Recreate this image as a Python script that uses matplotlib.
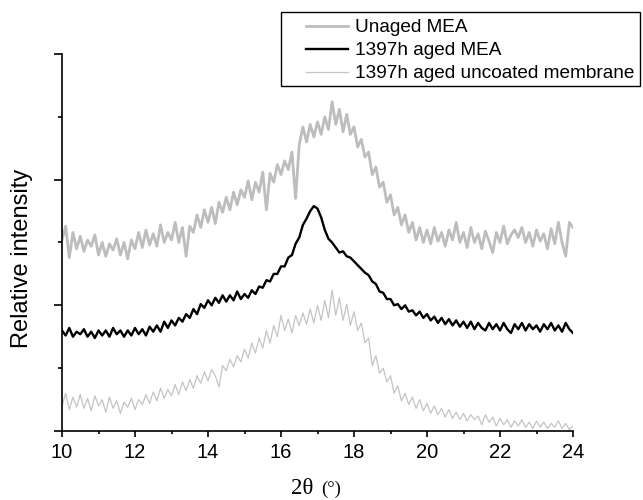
import numpy as np
import matplotlib.pyplot as plt
from matplotlib.patches import Rectangle
from matplotlib.ticker import MultipleLocator

plt.rcParams['font.family'] = ['Liberation Sans', 'DejaVu Sans']

# 2-theta sampling grid (degrees), 0.1 step from 10 to 24
two_theta = np.linspace(10, 24, 141)

# relative intensities (arbitrary units, stacked)
unaged_mea = [
    152, 163, 138, 158, 145, 155, 143, 152, 147, 156,
    140, 150, 139, 149, 144, 153, 140, 150, 137, 152,
    145, 158, 146, 160, 148, 157, 147, 164, 150, 158,
    152, 166, 150, 162, 139, 163, 158, 172, 162, 176,
    166, 178, 165, 182, 174, 186, 176, 190, 180, 192,
    186, 199, 184, 198, 190, 206, 176, 205, 198, 212,
    204, 215, 208, 222, 185, 228, 242, 230, 244, 234,
    246, 236, 250, 240, 262, 244, 256, 238, 252, 236,
    242, 226, 232, 218, 222, 204, 210, 194, 198, 182,
    188, 172, 178, 164, 172, 158, 166, 152, 162, 150,
    160, 149, 162, 151, 158, 147, 160, 152, 166, 150,
    158, 146, 162, 150, 157, 145, 159, 151, 142, 158,
    150, 163, 149, 156, 160, 154, 162, 150, 158, 147,
    160, 151, 157, 145, 161, 149, 166, 150, 139, 166,
    162,
]

aged_mea = [
    80, 76, 82, 75, 79, 77, 81, 75, 79, 74,
    80, 76, 80, 75, 82, 77, 80, 75, 80, 76,
    82, 77, 81, 76, 83, 79, 84, 79, 87, 82,
    88, 84, 90, 87, 93, 90, 97, 93, 101, 98,
    104, 100, 106, 102, 108, 103, 108, 104, 111, 105,
    109, 106, 112, 109, 115, 114, 120, 119, 125, 125,
    131, 131, 138, 140, 149, 154, 164, 169, 175, 179,
    177, 170, 160, 153, 150, 146, 142, 143, 139, 138,
    135, 132, 129, 126, 124, 119, 117, 111, 110, 105,
    105, 100, 101, 97, 100, 95, 96, 92, 95, 90,
    93, 88, 91, 86, 90, 85, 89, 84, 88, 83,
    87, 82, 87, 81, 86, 82, 80, 86, 81, 85,
    80, 86, 81, 78, 85, 81, 86, 80, 85, 81,
    84, 79, 85, 81, 86, 80, 84, 79, 86, 81,
    78,
]

aged_uncoated = [
    20, 30, 17, 27, 19, 29, 18, 26, 16, 28,
    20, 25, 15, 27, 18, 24, 14, 23, 19, 26,
    17, 25, 21, 29, 22, 31, 24, 34, 26, 33,
    28, 37, 29, 39, 32, 41, 34, 44, 38, 47,
    40, 49, 44, 35, 52, 48, 57, 51, 60, 55,
    65, 58, 70, 62, 74, 66, 80, 70, 84, 75,
    92, 80, 89, 78, 92, 84, 94, 85, 97, 86,
    100, 88, 104, 90, 112, 92, 106, 88, 101, 84,
    95, 80, 86, 70, 74, 52, 60, 46, 50, 39,
    44, 30, 36, 24, 30, 21, 27, 18, 25, 16,
    22, 14, 20, 13, 18, 11, 17, 10, 15, 9,
    14, 8, 13, 9, 12, 5, 13, 7, 11, 4,
    10, 5, 9, 3, 8, 4, 9, 3, 7, 2,
    8, 3, 7, 2, 6, 3, 8, 2, 6, 1,
    4,
]

labels = ['Unaged MEA', '1397h aged MEA', '1397h aged uncoated membrane']

W, H = 643, 500
fig = plt.figure(figsize=(W / 100, H / 100), dpi=100)
ax = fig.add_axes([62 / W, (H - 431) / H, (573 - 62) / W, (431 - 54) / H])

l1, = ax.plot(two_theta, unaged_mea, color='#bdbdbd', lw=2.0)
l2, = ax.plot(two_theta, aged_mea, color='black', lw=1.7)
l3, = ax.plot(two_theta, aged_uncoated, color='#c4c4c4', lw=0.9)

ax.set_xlim(10, 24)
ax.set_ylim(0, 300)
for s in ['top', 'right']:
    ax.spines[s].set_visible(False)
for s in ['left', 'bottom']:
    ax.spines[s].set_linewidth(1.2)

ax.xaxis.set_major_locator(MultipleLocator(2))
ax.xaxis.set_minor_locator(MultipleLocator(1))
ax.yaxis.set_major_locator(MultipleLocator(100))
ax.yaxis.set_minor_locator(MultipleLocator(50))
ax.tick_params(axis='x', which='major', direction='out', length=4.5, width=1.2,
               pad=4, labelsize=14.5)
ax.tick_params(axis='x', which='minor', direction='out', length=2.5, width=1.2)
ax.tick_params(axis='y', which='major', direction='out', length=6, width=1.2,
               labelleft=False)
ax.tick_params(axis='y', which='minor', direction='out', length=3, width=1.2)

fig.text(22 / W, 1 - 258 / H, 'Relative intensity', rotation=90,
         ha='center', va='center', fontsize=17)
fig.text(302 / W, 1 - 489 / H, '2θ', ha='center', va='center',
         fontsize=16.5, family='Liberation Serif')
fig.text(331 / W, 1 - 489 / H, '(°)', ha='center', va='center',
         fontsize=13.5, family='Liberation Serif')

fig.legend([l1, l2, l3], labels, loc='upper left',
           bbox_to_anchor=(306 / W, 1 - 19 / H), frameon=False,
           fontsize=13.7, handlelength=2.2, handletextpad=0.4,
           labelspacing=0.3, borderpad=0, borderaxespad=0)
fig.add_artist(Rectangle((281 / W, 1 - 86 / H), (640 - 281) / W, (86 - 12) / H,
                         transform=fig.transFigure, fill=False,
                         edgecolor='black', lw=1.0))

fig.savefig('out.png', dpi=100)
